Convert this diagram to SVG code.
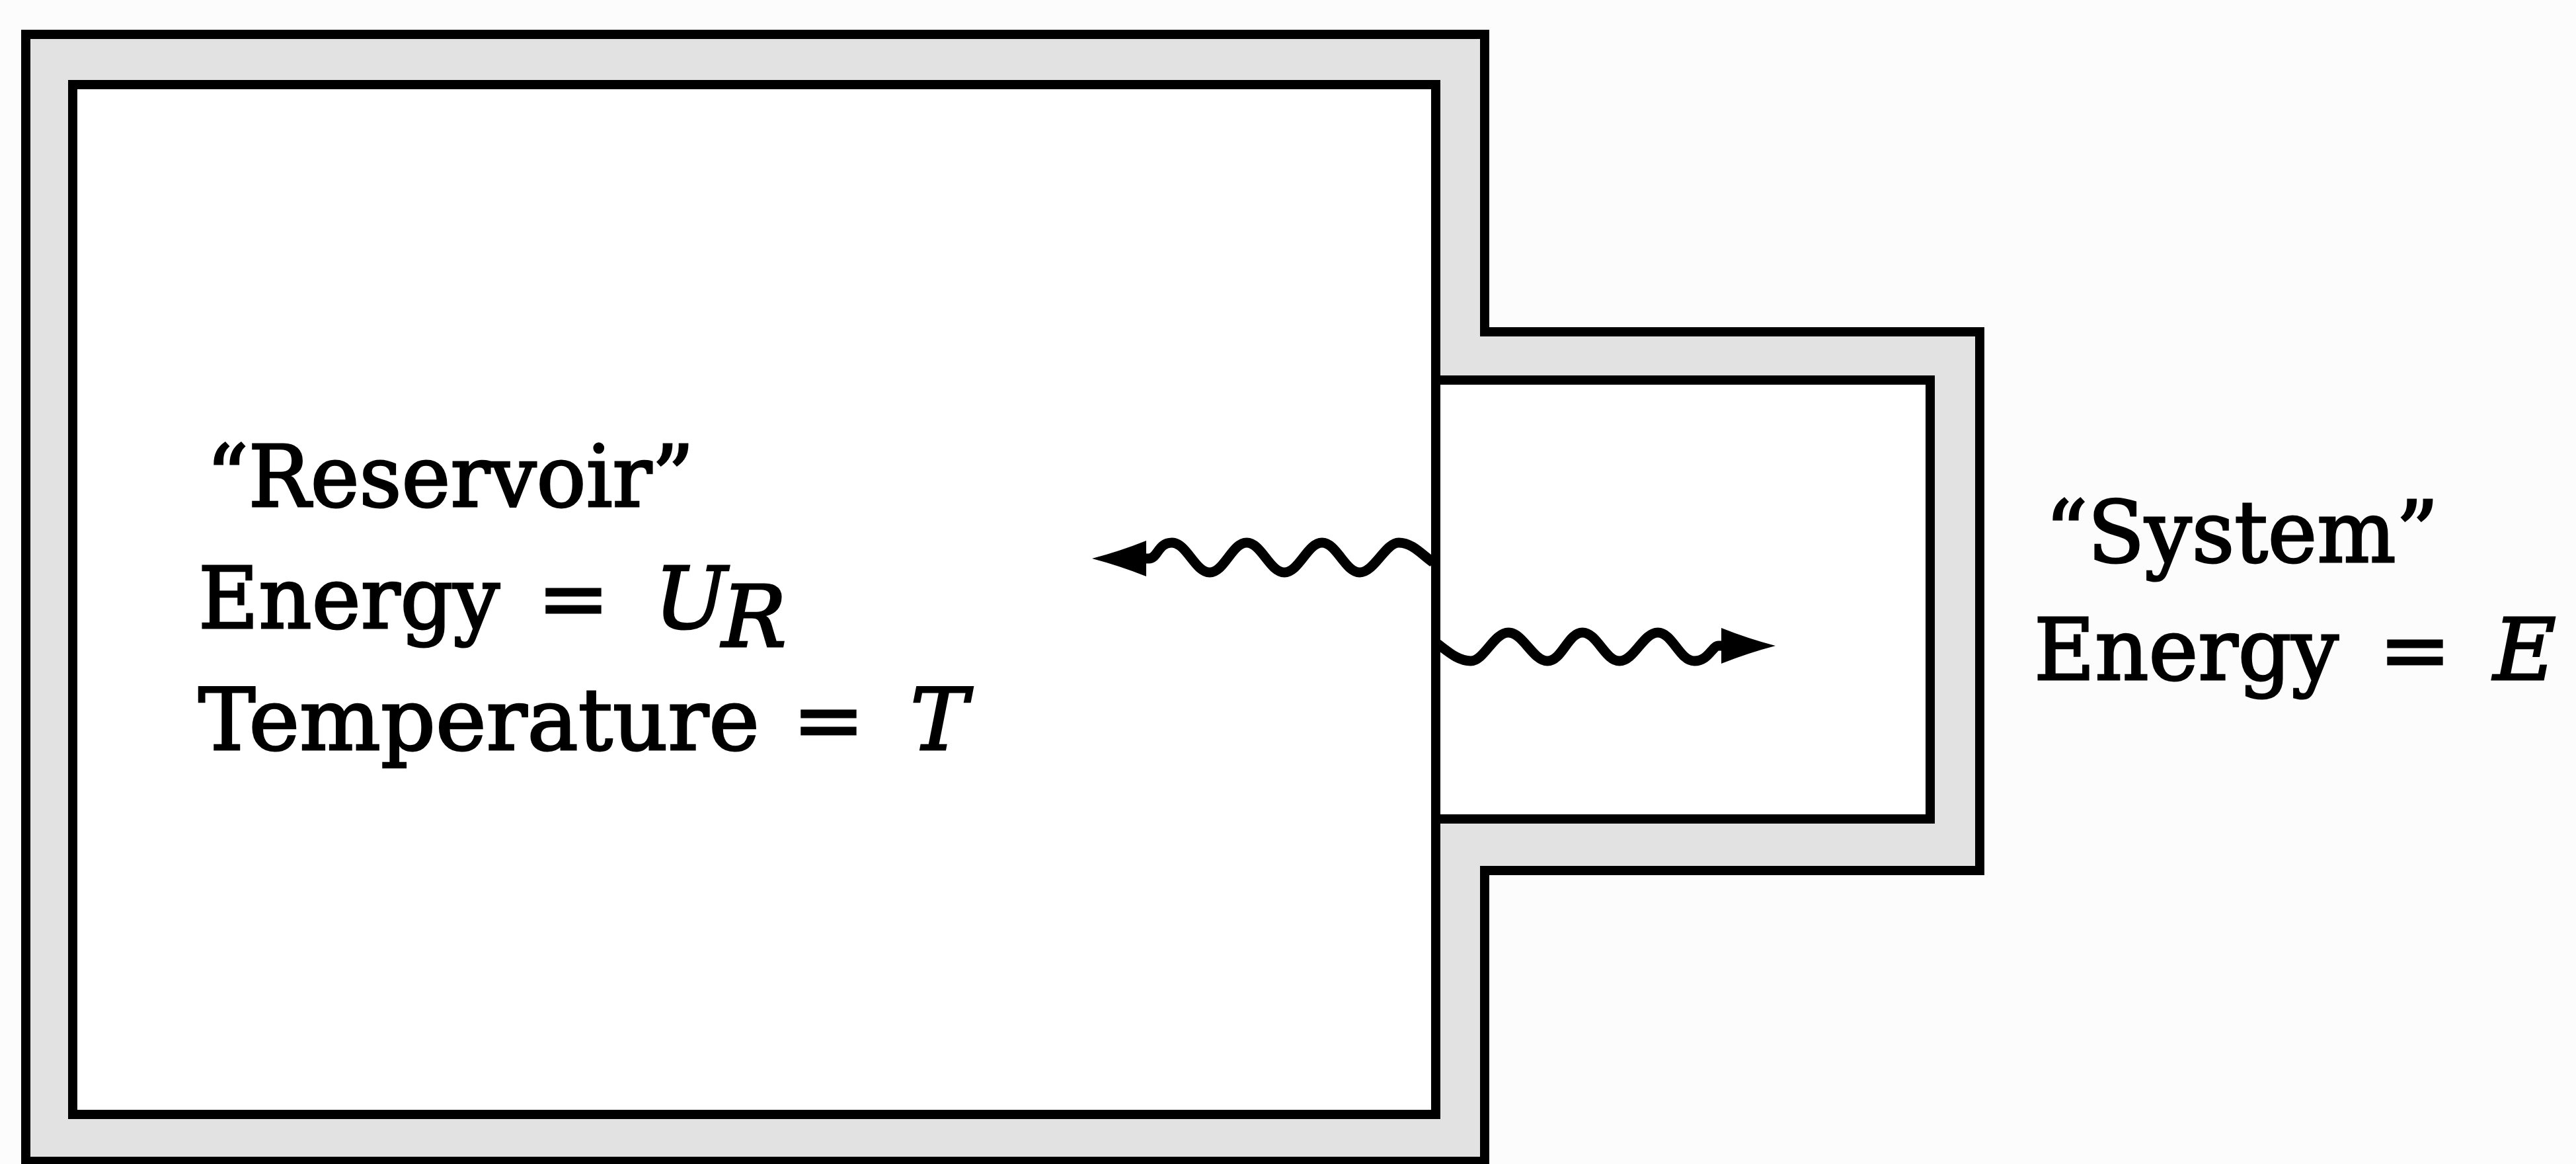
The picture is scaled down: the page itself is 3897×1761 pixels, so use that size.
<svg xmlns="http://www.w3.org/2000/svg" width="3897" height="1761" viewBox="0 0 3897 1761">
<style>
.wall{stroke:#000;stroke-width:14;stroke-linejoin:miter}
.outer{fill:#e2e2e2}
.inner{fill:#ffffff}
.t{font-family:"DejaVu Serif","Liberation Serif",serif;font-size:130px;fill:#000;stroke:#000;stroke-width:3}
.i{font-style:italic}
.wave{fill:none;stroke:#000;stroke-width:15;stroke-linejoin:round;stroke-linecap:butt}
</style>
<defs>
<marker id="head" markerUnits="userSpaceOnUse" markerWidth="90" markerHeight="60" viewBox="0 0 90 60" refX="4" refY="30" orient="auto">
<path d="M0,3 Q40,19 82,30 Q40,41 0,57 Z" fill="#000"/>
</marker>
</defs>
<rect width="3897" height="1761" fill="#fcfcfc"/>
<g id="walls">
<path class="wall outer" d="M39,52 H2246 V502 H2995 V1317 H2246 V1757 H39 Z"/>
</g>
<g id="reservoir">
<rect class="wall inner" x="110" y="128" width="2062" height="1558"/>
<text class="t" x="312" y="766" textLength="738" lengthAdjust="spacingAndGlyphs">“Reservoir”</text>
<text class="t" x="300" y="950" textLength="456" lengthAdjust="spacingAndGlyphs">Energy</text>
<text class="t" x="813" y="950">=</text>
<text class="t i" x="990" y="950">U</text>
<text class="t i" x="1092" y="978" font-size="92">R</text>
<text class="t" x="300" y="1134" textLength="849" lengthAdjust="spacingAndGlyphs">Temperature</text>
<text class="t" x="1199" y="1134">=</text>
<text class="t i" x="1377" y="1134">T</text>
</g>
<g id="system">
<rect class="wall inner" x="2172" y="575" width="748" height="664"/>
<text class="t" x="3094" y="850" textLength="595" lengthAdjust="spacingAndGlyphs">“System”</text>
<text class="t" x="3077" y="1028" textLength="461" lengthAdjust="spacingAndGlyphs">Energy</text>
<text class="t" x="3599" y="1028">=</text>
<text class="t i" x="3772" y="1028">E</text>
</g>
<g id="connectors">
<path class="wave" marker-end="url(#head)" d="M2168,851 C2150,838 2136,821 2116,821 S2079,866 2057,866 S2022,821 2000,821 S1965,866 1943,866 S1908,821 1886,821 S1852,866 1830,866 S1795,821 1773,821 S1752,845 1738,845 L1730,845"/>
<path class="wave" marker-end="url(#head)" d="M2172,972 C2190,985 2205,1000 2225,1000 S2260,957 2282,957 S2319,1000 2341,1000 S2372,957 2394,957 S2428,1000 2450,1000 S2486,957 2508,957 S2541,1000 2563,1000 S2590,977 2600,977 L2608,977"/>
</g>
</svg>
